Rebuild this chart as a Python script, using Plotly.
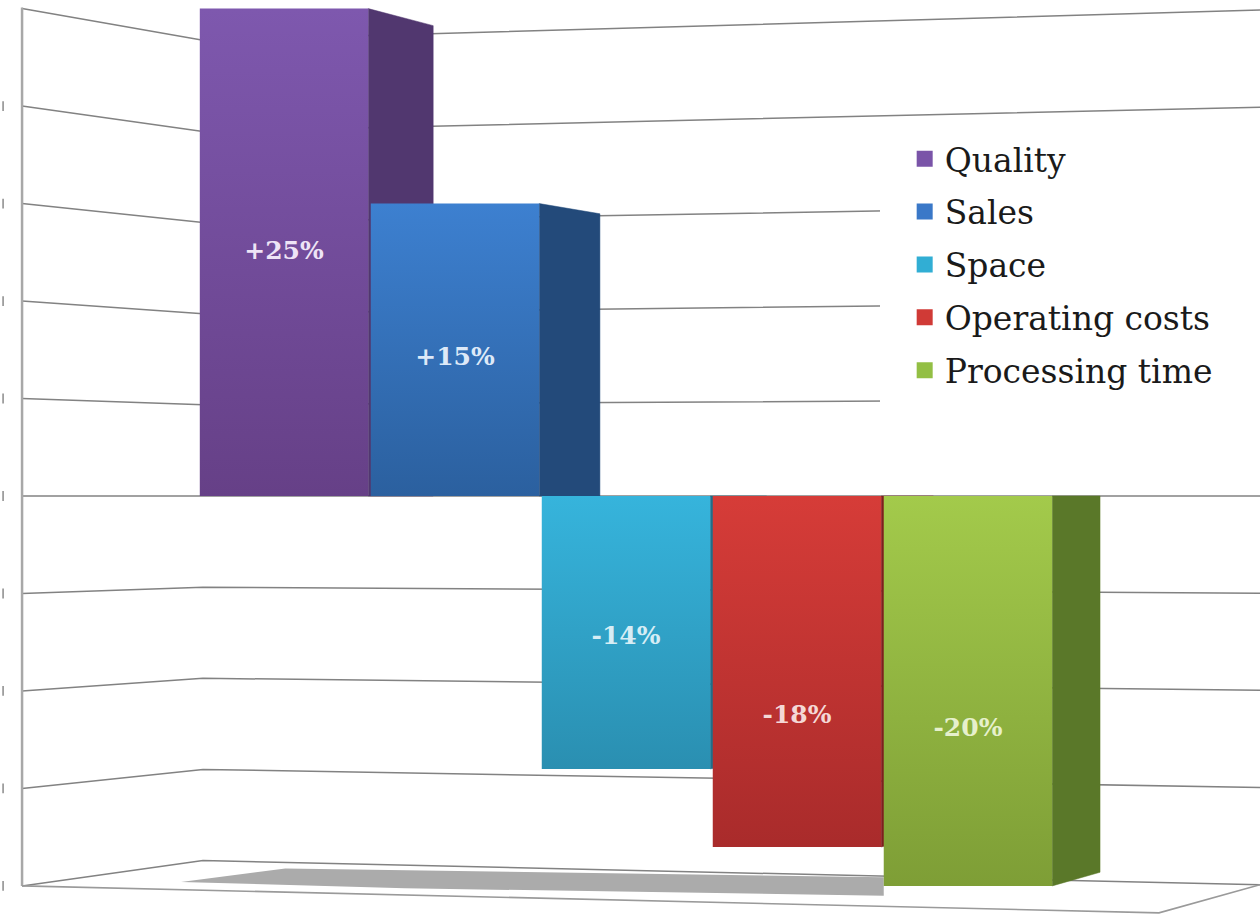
import plotly.graph_objects as go

# ---------------- data ----------------
categories = ["Quality", "Sales", "Space", "Operating costs", "Processing time"]
values = [25, 15, -14, -18, -20]
value_labels = ["+25%", "+15%", "-14%", "-18%", "-20%"]
grid_values = [25, 20, 15, 10, 5, 0, -5, -10, -15, -20]

# ---------------- style ----------------
front_top = ["#7e58ae", "#3d80d0", "#36b4dc", "#d63c38", "#a3ca4b"]
front_bottom = ["#664087", "#2b609f", "#2a8fb1", "#a92b2b", "#7e9e36"]
side_col = ["#51376f", "#234a7a", "#1f6e8a", "#7e1f1f", "#5a7829"]
legend_col = ["#7a54a8", "#3a78c8", "#31aed4", "#d03a36", "#93bf44"]
label_col = ["#eee4f6", "#dde9f8", "#d6edf5", "#f4d8d6", "#e6f0cc"]
label_frac = [0.5, 0.47, 0.52, 0.63, 0.6]

BAR_W = 0.985
DEPTH0, DEPTH_STEP = 0.38, 0.025
SHRINK = 0.965
X_MIN, X_MAX = -1.661, 5.708
Y_MIN, Y_MAX = -21.44, 25.44
WALL_X = -1.532
BACK_X = -0.474
BACK_L, BACK_R = 0.935, 0.997
GRID_COL = "#828282"

fig = go.Figure()

# back / side walls gridlines in perspective
for g in grid_values:
    fig.add_trace(go.Scatter(
        x=[WALL_X, BACK_X, X_MAX], y=[g, g * BACK_L, g * BACK_R],
        mode="lines", line=dict(color=GRID_COL, width=1.5),
        showlegend=False, hoverinfo="skip"))

# small cut-off tick stubs at the far left
fig.add_trace(go.Scatter(
    x=[X_MIN + 0.018] * (len(grid_values) - 1), y=grid_values[1:],
    mode="markers",
    marker=dict(symbol="line-ns", size=7, line=dict(color="#8a8a8a", width=1.5)),
    showlegend=False, hoverinfo="skip"))

# left wall vertical edge
fig.add_trace(go.Scatter(
    x=[WALL_X, WALL_X], y=[max(grid_values) + 0.05, min(grid_values)],
    mode="lines", line=dict(color="#a8a8a8", width=2.5),
    showlegend=False, hoverinfo="skip"))

# floor outline
floor_v = min(grid_values)
fig.add_trace(go.Scatter(
    x=[WALL_X, 5.117, X_MAX], y=[floor_v, floor_v * 1.069, floor_v * BACK_R],
    mode="lines", line=dict(color="#9a9a9a", width=1.6),
    showlegend=False, hoverinfo="skip"))

# shadow on the floor
x0 = 0 - BAR_W / 2
xr = len(values) - 1 - BAR_W / 2
fig.add_trace(go.Scatter(
    x=[x0 - 0.11, x0 + 0.5, xr, xr, x0 + 1.2, x0 - 0.11],
    y=[floor_v * 0.99, floor_v * 0.955, floor_v * 0.978, floor_v * 1.025,
       floor_v * 1.006, floor_v * 0.99],
    mode="lines", fill="toself", fillcolor="#ababab",
    line=dict(color="rgba(0,0,0,0)", width=0),
    showlegend=False, hoverinfo="skip"))

# bars: side face then front face, in order so the next front covers the previous side
for i, (cat, v) in enumerate(zip(categories, values)):
    xl = i - BAR_W / 2
    xrr = i + BAR_W / 2
    d = DEPTH0 - DEPTH_STEP * i
    fig.add_trace(go.Scatter(
        x=[xrr, xrr, xrr + d, xrr + d, xrr],
        y=[0, v, v * SHRINK, 0, 0],
        mode="lines", fill="toself", fillcolor=side_col[i],
        line=dict(color=side_col[i], width=0.5),
        legendgroup=cat, showlegend=False, hoverinfo="skip"))
    fig.add_trace(go.Scatter(
        x=[xl, xl, xrr, xrr, xl],
        y=[0, v, v, 0, 0],
        mode="lines", fill="toself",
        fillgradient=dict(type="vertical",
                          colorscale=[[0, front_bottom[i]], [1, front_top[i]]]),
        line=dict(color="rgba(0,0,0,0)", width=0),
        legendgroup=cat, showlegend=False, hoverinfo="skip"))

# value labels
fig.add_trace(go.Scatter(
    x=list(range(len(values))),
    y=[v * f for v, f in zip(values, label_frac)],
    mode="text", text=value_labels,
    textfont=dict(family="DejaVu Serif", size=25, color=label_col, weight="bold"),
    showlegend=False, hoverinfo="skip"))

# legend entries
for i, cat in enumerate(categories):
    fig.add_trace(go.Scatter(
        x=[None], y=[None], mode="markers", name=cat, legendgroup=cat,
        marker=dict(symbol="square", size=16, color=legend_col[i],
                    line=dict(color="#ffffff", width=0))))

fig.update_layout(
    width=1260, height=914,
    margin=dict(l=0, r=0, t=0, b=0),
    paper_bgcolor="white", plot_bgcolor="white",
    xaxis=dict(range=[X_MIN, X_MAX], visible=False, fixedrange=True),
    yaxis=dict(range=[Y_MIN, Y_MAX], visible=False, fixedrange=True),
    legend=dict(x=0.718, y=0.857, xanchor="left", yanchor="top",
                bgcolor="white", borderwidth=0,
                font=dict(family="DejaVu Serif", size=33, color="#1a1a1a"),
                traceorder="grouped", tracegroupgap=7),
    shapes=[dict(type="rect", xref="paper", yref="paper",
                 x0=880 / 1260, x1=1.0, y0=1 - 405 / 914, y1=1 - 126 / 914,
                 fillcolor="white", line=dict(width=0), layer="above")],
    showlegend=True,
)

fig.write_html(
    "out.html",
    config={"displayModeBar": False},
    post_script="document.body.style.margin='0';document.body.style.overflow='hidden';",
)
